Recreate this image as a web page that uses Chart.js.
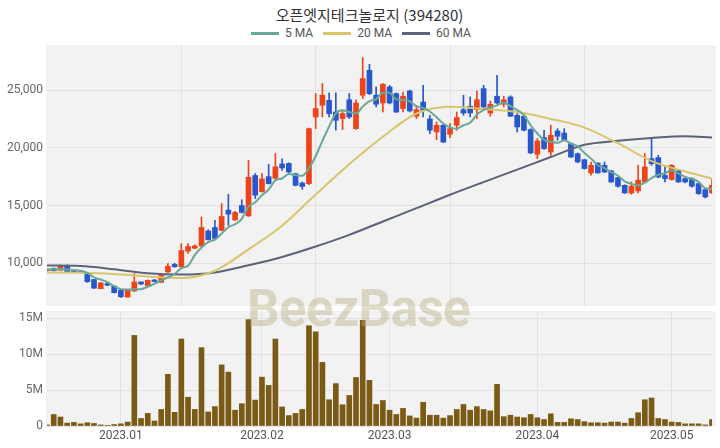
<!DOCTYPE html>
<html>
<head>
<meta charset="utf-8">
<script src="https://cdn.jsdelivr.net/npm/chart.js@4.4.0/dist/chart.umd.min.js"></script>
<style>
  body { margin: 0; background: #fff; width: 720px; height: 448px; overflow: hidden; position: relative;
         font-family: 'Noto Sans CJK KR', 'Noto Sans', sans-serif; }
  #title { position: absolute; top: 4px; left: 0; width: 739px; text-align: center; font-size: 15px; color: #333; }
  #legend { position: absolute; top: 26px; left: 0; width: 722px; display: flex; justify-content: center;
            font-family: Roboto, sans-serif; font-size: 12px; color: #555; }
  #legend span.item { display: flex; align-items: center; margin: 0 5px; }
  #legend span.sw { display: inline-block; width: 28px; height: 3px; margin-right: 6px; }
  canvas { position: absolute; left: 0; }
  #price { top: 0; }
  #vol { top: 309px; }
  #mark { position: absolute; left: 247px; top: 279px; font-family: Roboto, sans-serif; font-weight: bold;
          font-size: 51px; letter-spacing: -0.5px; color: rgba(186, 172, 128, 0.42); pointer-events: none; }
</style>
</head>
<body>
<div id="title">오픈엣지테크놀로지 (394280)</div>
<div id="legend"></div>
<canvas id="price" width="720" height="309"></canvas>
<canvas id="vol" width="720" height="139"></canvas>
<div id="mark">BeezBase</div>
<script>
// daily candles, 2022-12-15 .. 2023-05-11
const open = [9350, 9540, 9400, 9830, 9300, 9280, 9050, 8600, 7800, 8250,
  8030, 7660, 7080, 7600, 8380, 8050, 8550, 8350, 9250, 9900,
  9700, 11050, 11300, 11500, 12800, 13100, 12850, 14600, 13750, 15000,
  14100, 17600, 16200, 17500, 17350, 18600, 18650, 17750, 16950, 16900,
  22670, 23680, 24110, 23100, 22530, 24160, 21660, 24550, 26710, 24550,
  23880, 25270, 24690, 23400, 24920, 22730, 23960, 22500, 21370, 21950,
  21170, 21950, 23300, 23590, 23300, 25120, 23010, 24460, 23770, 24400,
  22810, 22730, 21580, 19440, 20880, 19640, 21460, 21280, 20360, 19490,
  18970, 17820, 18680, 18480, 18000, 17420, 16750, 16090, 16260, 17040,
  19060, 19150, 17600, 17250, 18000, 17330, 17330, 16900, 16380, 16090];
const high = [9480, 9600, 9850, 9850, 9330, 9300, 9050, 8600, 8350, 8280,
  8050, 7700, 7700, 9110, 8400, 8560, 8600, 9000, 9980, 10000,
  11700, 11700, 11600, 14000, 12900, 13720, 15170, 15970, 14500, 15500,
  18900, 17770, 17770, 18570, 19500, 19050, 18700, 17800, 17050, 21700,
  24690, 25560, 24750, 24750, 23250, 24690, 24160, 27810, 27230, 25270,
  25560, 25410, 24750, 24830, 25000, 23680, 25410, 22810, 22240, 22000,
  22100, 23100, 24550, 24400, 24920, 25410, 24050, 26280, 24460, 24500,
  22960, 22960, 21650, 20800, 21520, 21950, 21660, 21660, 20400, 19550,
  19000, 18770, 18700, 18770, 18050, 17450, 16800, 17040, 18480, 19500,
  20800, 19350, 18340, 18550, 18050, 17400, 17400, 16950, 16400, 17330];
const low = [9300, 9330, 9380, 9200, 9200, 9180, 8350, 7800, 7780, 8050,
  7430, 7050, 7050, 7550, 8150, 8000, 8380, 8330, 9200, 9650,
  9650, 10850, 11250, 11450, 12000, 12100, 12800, 13290, 13700, 14350,
  14050, 15600, 16150, 16850, 17300, 18050, 17850, 16700, 16400, 16800,
  21660, 22670, 22670, 21520, 21580, 22530, 21600, 24260, 24600, 23530,
  23100, 23800, 23050, 23100, 23100, 22530, 22670, 21230, 20710, 20450,
  20880, 21520, 22810, 22670, 22530, 23500, 22730, 23800, 23530, 22700,
  21370, 21450, 19500, 19060, 19850, 19350, 20650, 20600, 19150, 18700,
  18150, 17620, 17800, 17850, 17000, 16600, 16050, 15970, 16090, 17000,
  18480, 17400, 17040, 17200, 17000, 16950, 16600, 15950, 15650, 16050];
const close = [9420, 9360, 9800, 9230, 9220, 9200, 8400, 7850, 8300, 8100,
  7450, 7100, 7650, 8380, 8200, 8520, 8420, 8950, 9740, 9700,
  11100, 11450, 11500, 13100, 12050, 12150, 14050, 14250, 14400, 14400,
  17450, 15900, 17300, 16900, 18350, 18250, 17900, 16750, 16650, 21660,
  23400, 24550, 22960, 22380, 22960, 22670, 23870, 25990, 24690, 23770,
  25500, 23880, 23100, 24460, 23190, 23300, 23240, 21520, 21950, 20500,
  21660, 22620, 23010, 23010, 24160, 23530, 23770, 23880, 24160, 22730,
  21800, 21520, 19550, 20590, 19930, 21080, 21000, 20650, 19200, 18770,
  18200, 18480, 17820, 17900, 17040, 16670, 16090, 16670, 17190, 18340,
  18630, 17470, 17330, 18480, 17040, 17040, 16670, 16030, 15740, 16750];
// volume, millions of shares
const volumeM = [0.15, 1.6, 1.25, 0.4, 0.5, 0.3, 0.45, 0.35, 0.15, 0.05,
  0.2, 0.3, 0.55, 12.6, 1.05, 1.75, 0.7, 2.3, 7.2, 1.9,
  12.1, 4.0, 2.3, 10.9, 1.95, 2.7, 8.5, 7.5, 2.2, 3.1,
  14.8, 3.6, 6.8, 5.65, 12.1, 2.65, 1.45, 1.75, 2.3, 13.95,
  13.1, 8.85, 3.65, 5.9, 2.95, 4.25, 6.75, 14.7, 6.35, 3.0,
  3.55, 2.2, 1.6, 2.45, 1.4, 1.1, 3.3, 1.5, 1.5, 1.1,
  1.45, 2.3, 3.0, 2.2, 2.7, 2.3, 2.1, 5.8, 1.3, 1.5,
  1.25, 1.15, 1.6, 1.15, 0.9, 1.7, 0.5, 0.5, 1.0, 0.9,
  0.6, 0.45, 0.45, 0.4, 0.55, 0.55, 0.4, 1.05, 1.85, 3.65,
  3.9, 1.05, 0.9, 0.55, 0.5, 0.3, 0.3, 0.3, 0.15, 0.9];
// moving averages
const ma5 = [9480, 9470, 9500, 9470, 9410, 9360, 9170, 8780, 8590, 8370,
  8020, 7760, 7720, 7740, 7760, 7970, 8230, 8490, 8770, 9070,
  9580, 9790, 10700, 11370, 11840, 12050, 12570, 13120, 13380, 13850,
  14910, 15280, 15890, 16390, 17180, 17340, 17740, 17630, 17580, 18240,
  19270, 20600, 21840, 22990, 23250, 23100, 22970, 23570, 24040, 24200,
  24760, 24770, 24190, 24140, 24030, 23590, 23460, 23140, 22640, 22100,
  21770, 21650, 21950, 22160, 22890, 23270, 23500, 23670, 23900, 23610,
  23270, 22820, 21950, 21240, 20680, 20530, 20430, 20650, 20370, 20140,
  19560, 19060, 18490, 18230, 17890, 17580, 17100, 16870, 16730, 16990,
  17380, 17660, 17790, 18050, 17790, 17470, 17310, 17050, 16500, 16450];
// 20 / 60 MA sampled every 5 sessions (index -> value)
const maIdx = [0, 5, 10, 15, 20, 25, 30, 35, 40, 45, 50, 55, 60, 65, 70, 75, 80, 85, 90, 95, 99];
const ma20Val = [9200, 9180, 9070, 8860, 8720, 9350, 11200, 13250, 15950, 18570, 20950, 22970,
  23550, 23350, 23100, 22500, 21750, 20400, 18850, 17950, 17330];
const ma60Val = [9800, 9770, 9480, 9130, 9020, 9200, 9830, 10550, 11450, 12460, 13620, 14770,
  15930, 17030, 18110, 19200, 20260, 20600, 20850, 21000, 20880];

const priceTicks = [10000, 15000, 20000, 25000];
const volTicks = [0, 5, 10, 15];
const monthIdx = [11, 32, 51, 73, 93];
const monthLabels = ['2023.01', '2023.02', '2023.03', '2023.04', '2023.05'];

const UP = '#ec4418';
const DOWN = '#2857cc';
const GRID = '#e1e1e1';
const MA_COLORS = ['#68a898', '#d8c66c', '#5c6279'];

Chart.defaults.font.family = "Roboto, 'Noto Sans', sans-serif";

const n = close.length;
const cats = close.map((_, i) => i);
const candleColors = close.map((c, i) => c >= open[i] ? UP : DOWN);
const sparse = (idxs, vals) => {
  const out = new Array(n).fill(null);
  idxs.forEach((k, j) => { out[k] = vals[j]; });
  return out;
};

// legend
const legend = document.getElementById('legend');
['5 MA', '20 MA', '60 MA'].forEach((name, i) => {
  legend.innerHTML += '<span class="item"><span class="sw" style="background:' + MA_COLORS[i] + '"></span>' + name + '</span>';
});

const panelBg = (x0, x1, extra) => ({
  id: 'panelBg',
  beforeDraw(chart) {
    const { ctx, chartArea: a } = chart;
    ctx.save();
    ctx.fillStyle = '#f2f2f2';
    ctx.fillRect(x0, a.top, x1 - x0, a.bottom - a.top + extra);
    ctx.restore();
  }
});

// keep Chart.js from reserving room for half tick labels
const noPad = (s) => { s.paddingTop = 0; s.paddingBottom = 0; s.paddingLeft = 0; s.paddingRight = 0; };

const maLine = (label, data, color) => ({
  type: 'line', label, data, borderColor: color, borderWidth: 2, pointRadius: 0,
  spanGaps: true, cubicInterpolationMode: 'monotone', order: 0
});

new Chart(document.getElementById('price'), {
  type: 'bar',
  data: {
    labels: cats,
    datasets: [
      maLine('5 MA', ma5, MA_COLORS[0]),
      maLine('20 MA', sparse(maIdx, ma20Val), MA_COLORS[1]),
      maLine('60 MA', sparse(maIdx, ma60Val), MA_COLORS[2]),
      {
        label: 'body',
        data: open.map((o, i) => [Math.min(o, close[i]), Math.max(o, close[i])]),
        backgroundColor: candleColors, barThickness: 5, grouped: false, minBarLength: 1, order: 1
      },
      {
        label: 'wick',
        data: low.map((l, i) => [l, high[i]]),
        backgroundColor: candleColors, barThickness: 1, grouped: false, order: 2
      }
    ]
  },
  options: {
    responsive: false,
    animation: false,
    events: [],
    layout: { padding: { top: 45, right: 8, bottom: 3, left: 0 } },
    plugins: { legend: { display: false }, tooltip: { enabled: false } },
    scales: {
      x: {
        offset: false,
        ticks: { display: false },
        grid: {
          offset: false, drawTicks: false,
          color: (c) => (c.index > 0 && c.index % 20 === 0) ? GRID : 'transparent'
        },
        border: { display: false },
        afterFit: (s) => { s.height = 0; noPad(s); }
      },
      y: {
        min: 6300,
        max: 28900,
        afterBuildTicks: (s) => { s.ticks = priceTicks.map(v => ({ value: v })); },
        ticks: { callback: (v) => v.toLocaleString('en-US'), color: '#666', font: { size: 12 }, padding: 4 },
        grid: { color: GRID, drawTicks: false },
        border: { display: false },
        afterFit: (s) => { s.width = 47; noPad(s); }
      }
    }
  },
  plugins: [panelBg(46, 716, 0)]
});

new Chart(document.getElementById('vol'), {
  type: 'bar',
  data: {
    labels: cats,
    datasets: [{
      label: 'Volume',
      data: volumeM,
      backgroundColor: '#7a5a14',
      barThickness: 5
    }]
  },
  options: {
    responsive: false,
    animation: false,
    events: [],
    layout: { padding: { top: 2, right: 8, bottom: 0, left: 0 } },
    plugins: { legend: { display: false }, tooltip: { enabled: false } },
    scales: {
      x: {
        offset: false,
        afterBuildTicks: (s) => { s.ticks = monthIdx.map(v => ({ value: v })); },
        ticks: {
          autoSkip: false, maxRotation: 0, padding: 3, color: '#555', font: { size: 12 },
          callback: (v) => monthLabels[monthIdx.indexOf(v)]
        },
        grid: { offset: false, drawTicks: false, color: GRID },
        border: { display: false },
        afterFit: (s) => { s.height = 22; noPad(s); }
      },
      y: {
        min: 0,
        max: 16,
        afterBuildTicks: (s) => { s.ticks = volTicks.map(v => ({ value: v })); },
        ticks: { callback: (v) => v === 0 ? '0' : v + 'M', color: '#666', font: { size: 12 }, padding: 4 },
        grid: { color: GRID, drawTicks: false },
        border: { display: false },
        afterFit: (s) => { s.width = 47; noPad(s); }
      }
    }
  },
  plugins: [panelBg(46, 716, 1)]
});
</script>
</body>
</html>
